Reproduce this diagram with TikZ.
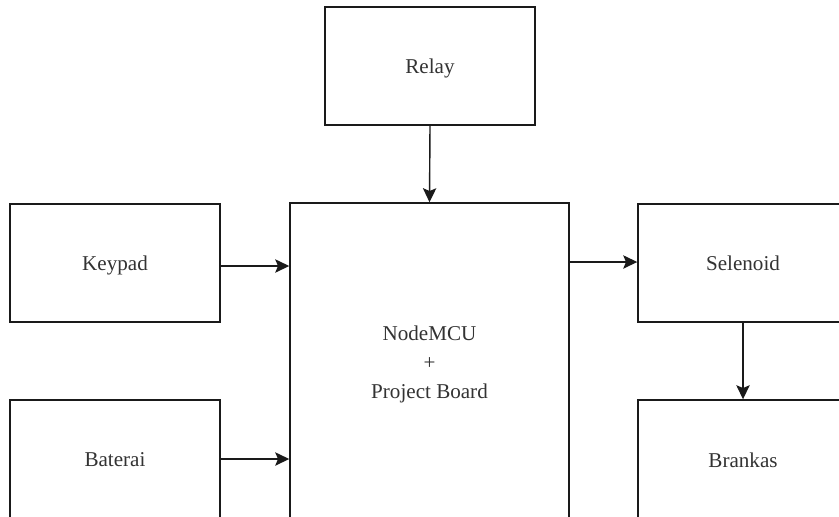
\documentclass[tikz,border=0pt]{standalone}
\usepackage{fontspec}
\setmainfont{Liberation Serif}
\newfontfamily\blockfont{Liberation Serif}
\usepackage{tikz}
\usetikzlibrary{arrows.meta, calc, positioning}

\definecolor{linegray}{HTML}{1A1A1A}
\definecolor{textgray}{HTML}{333333}

\begin{document}
\begin{tikzpicture}[
    x=0.025cm, y=-0.025cm,
    line width=1pt,
    draw=linegray,
    >={Stealth[length=10pt, width=9.5pt, inset=2pt]}
]
    % Styles for blocks
    \tikzstyle{block} = [draw=linegray, rectangle, minimum width=5.25cm, minimum height=2.95cm, inner sep=0pt, text depth=0pt, align=center, fill=white, text=textgray, font=\blockfont\fontsize{15}{20.5}\selectfont]
    \tikzstyle{mcu_style} = [block, minimum width=6.975cm, minimum height=7.95cm]

    % Canvas (boxes run off the right and bottom edges)
    \useasboundingbox (0,0) rectangle (839,516);
    \clip (0,0) rectangle (839,516);

    % Components

    % Relay (Top)
    \node [block] (relay) at (430,66) {Relay};

    % NodeMCU + Project Board (Center)
    \node [mcu_style] (mcu) at (429.5,362) {NodeMCU \\ + \\ Project Board};

    % Inputs (Left)
    \node [block] (keypad) at (115,263) {Keypad};
    \node [block, minimum height=3cm] (baterai) at (115,460) {Baterai};

    % Outputs (Right)
    \node [block] (selenoid) at (743,263) {Selenoid};
    \node [block, minimum height=3cm] (brankas) at (743,460) {Brankas};

    % Connections
    \draw [->] (relay.south) -- (mcu.north);
    \draw [->] (keypad.east |- 0,266) -- (mcu.west |- 0,266);
    \draw [->] (baterai.east |- 0,459) -- (mcu.west |- 0,459);
    \draw [->] ($(mcu.east |- 0,262) - (1.5,0)$) -- (selenoid.west |- 0,262);
    \draw [->] (selenoid.south) -- (brankas.north);

\end{tikzpicture}
\end{document}
